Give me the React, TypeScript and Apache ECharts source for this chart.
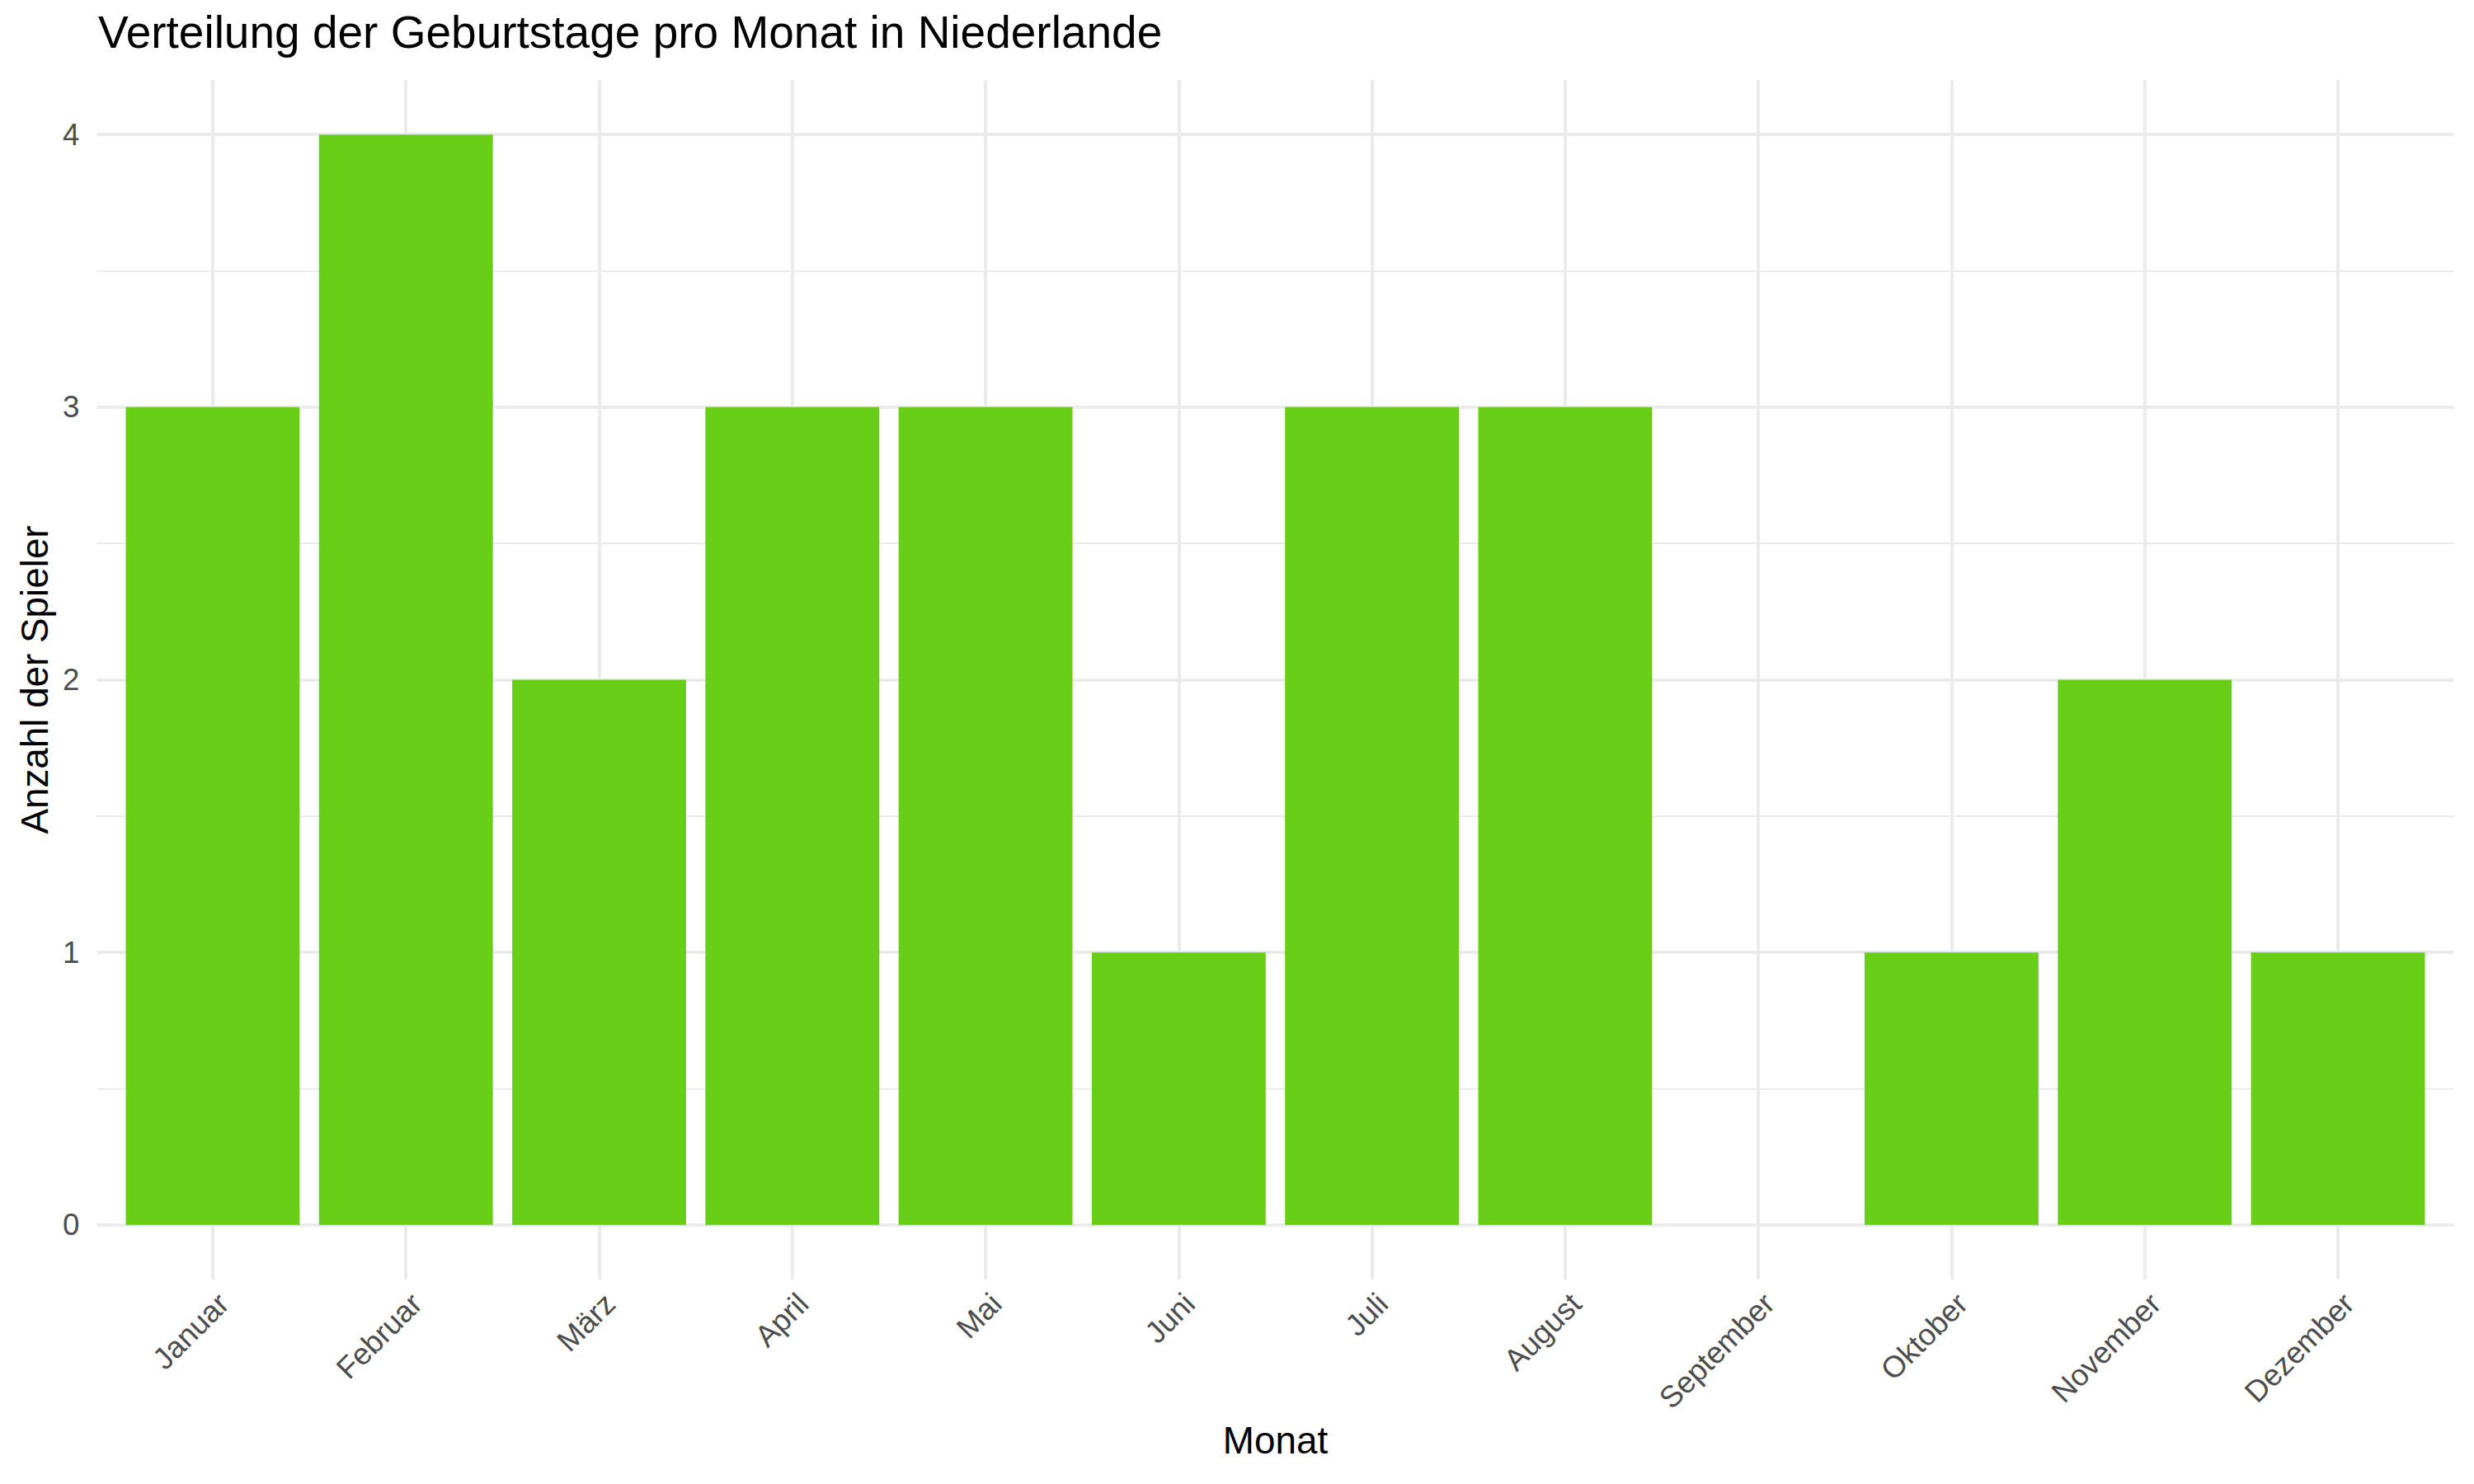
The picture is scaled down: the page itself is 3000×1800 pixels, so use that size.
import React, { useEffect, useRef } from "react";
import * as echarts from "echarts";

const months = ["Januar", "Februar", "März", "April", "Mai", "Juni", "Juli", "August", "September", "Oktober", "November", "Dezember"];
const counts = [3, 4, 2, 3, 3, 1, 3, 3, 0, 1, 2, 1];
const yTicks = [0, 1, 2, 3, 4];
const yMinor = [0.5, 1.5, 2.5, 3.5];
const title = "Verteilung der Geburtstage pro Monat in Niederlande";
const xTitle = "Monat";
const yTitle = "Anzahl der Spieler";

const FONT = "'Liberation Sans', Arial, Helvetica, sans-serif";
const GRID_COLOR = "#EBEBEB";

export default function App() {
  const ref = useRef<HTMLDivElement>(null);
  useEffect(() => {
    if (!ref.current) return;
    const chart = echarts.init(ref.current, null, { renderer: "svg" });
    const xIdx = months.map((_, i) => i);
    const gridLeft = 117.4;
    const gridRight = 24.4;
    const panelW = 3000 - gridLeft - gridRight;
    const band = panelW / (months.length + 0.2);
    chart.setOption({
      animation: false,
      backgroundColor: "#ffffff",
      textStyle: { fontFamily: FONT },
      title: {
        text: title,
        left: 114,
        top: 6,
        textStyle: { fontFamily: FONT, fontSize: 55, fontWeight: "normal", color: "#000000" },
      },
      grid: {
        left: gridLeft,
        right: gridRight,
        top: 97,
        bottom: 248,
        containLabel: false,
        outerBoundsMode: "none",
      },
      xAxis: {
        type: "value",
        min: -0.6,
        max: months.length - 1 + 0.6,
        axisLine: { show: false },
        axisTick: { show: false, customValues: xIdx },
        splitLine: { show: false },
        axisLabel: {
          customValues: xIdx,
          formatter: (v: number) => months[Math.round(v)] ?? "",
          rotate: 45,
          verticalAlign: "top",
          color: "#4D4D4D",
          fontSize: 36.7,
          fontFamily: FONT,
          margin: 10,
        },
        name: xTitle,
        nameLocation: "middle",
        nameGap: 172,
        nameTextStyle: { fontFamily: FONT, fontSize: 45.8, color: "#000000" },
      },
      yAxis: {
        type: "value",
        min: -0.2,
        max: 4.2,
        axisLine: { show: false },
        axisTick: { show: false, customValues: yTicks },
        splitLine: { show: false },
        axisLabel: {
          customValues: yTicks,
          color: "#4D4D4D",
          fontSize: 36.7,
          fontFamily: FONT,
          margin: 21,
        },
        name: yTitle,
        nameLocation: "middle",
        nameRotate: 90,
        nameGap: 52,
        nameTextStyle: { fontFamily: FONT, fontSize: 45.8, color: "#000000" },
      },
      series: [
        {
          type: "line",
          data: [[0, 0]],
          showSymbol: false,
          symbol: "none",
          lineStyle: { opacity: 0 },
          silent: true,
          z: 1,
          markLine: {
            silent: true,
            z: 1,
            symbol: ["none", "none"],
            label: { show: false },
            animation: false,
            data: [
              ...yMinor.map((v) => ({ yAxis: v, lineStyle: { color: GRID_COLOR, width: 2, type: "solid" } })),
              ...yTicks.map((v) => ({ yAxis: v, lineStyle: { color: GRID_COLOR, width: 4, type: "solid" } })),
              ...xIdx.map((v) => ({ xAxis: v, lineStyle: { color: GRID_COLOR, width: 4, type: "solid" } })),
            ],
          },
        },
        {
          type: "bar",
          data: counts.map((c, i) => [i, c]),
          barWidth: band * 0.9,
          itemStyle: { color: "#69CE17" },
          z: 10,
        },
      ],
    });
    return () => chart.dispose();
  }, []);
  return (
    <div
      ref={ref}
      style={{ position: "fixed", left: 0, top: 0, width: 3000, height: 1800, background: "#fff" }}
    />
  );
}
